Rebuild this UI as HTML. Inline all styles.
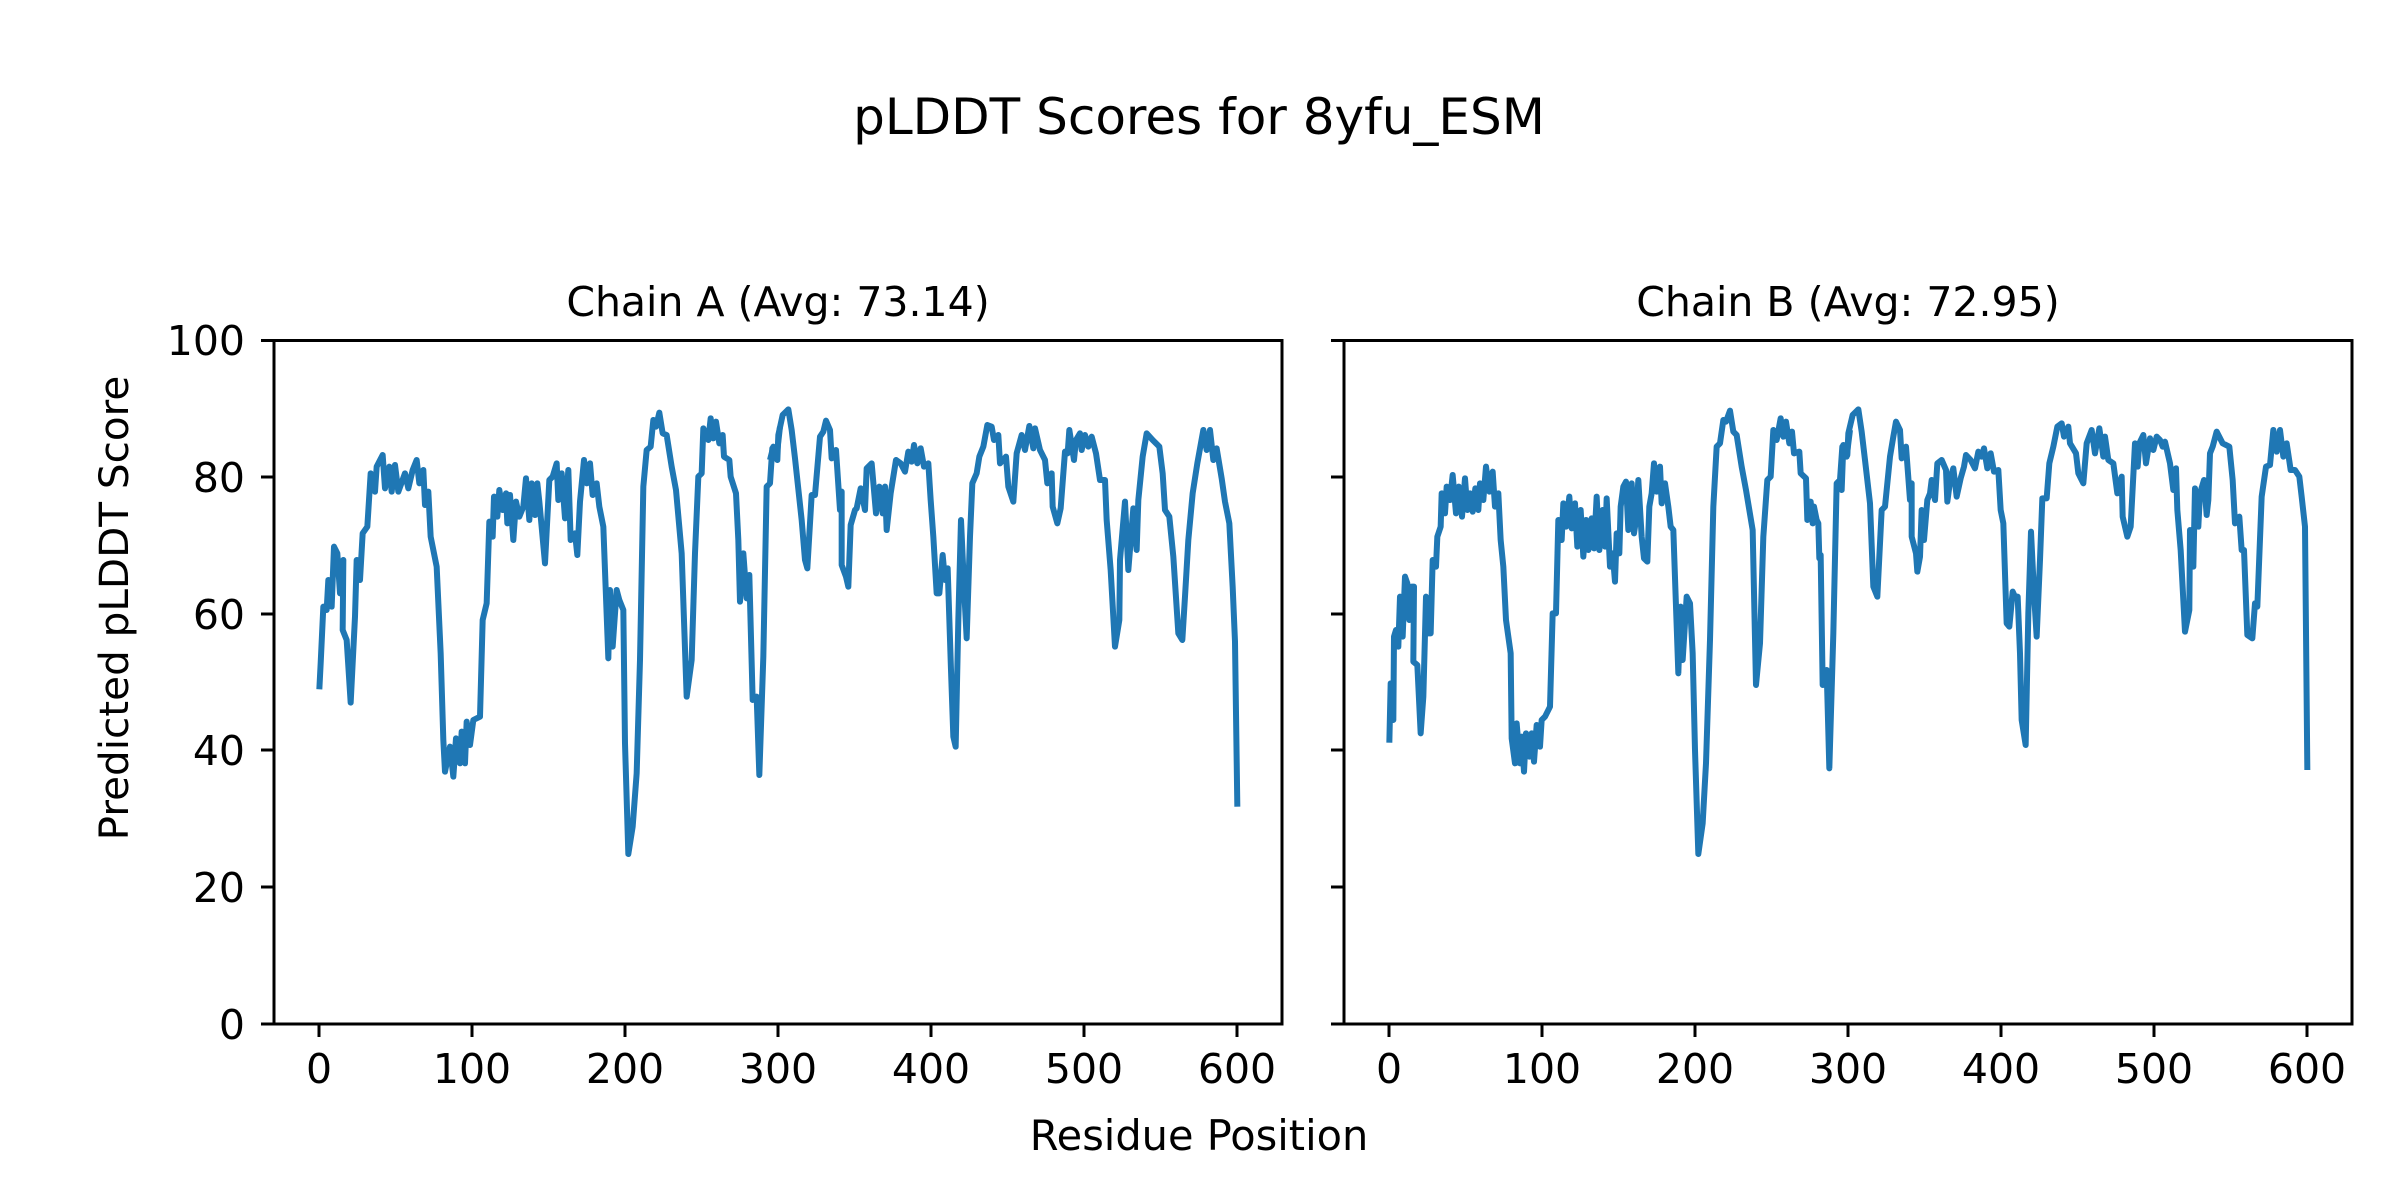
<!DOCTYPE html>
<html><head><meta charset="utf-8"><style>
html,body{margin:0;padding:0;background:#fff;}
svg{display:block;}
text{font-family:"DejaVu Sans","Liberation Sans",sans-serif;fill:#000;}
</style></head><body>
<svg width="2400" height="1200" viewBox="0 0 2400 1200" xmlns="http://www.w3.org/2000/svg">
<rect width="2400" height="1200" fill="#fff"/>
<text x="1199" y="134" font-size="50" text-anchor="middle">pLDDT Scores for 8yfu_ESM</text>
<text x="778" y="316" font-size="41" text-anchor="middle">Chain A (Avg: 73.14)</text>
<text x="1848" y="316" font-size="41" text-anchor="middle">Chain B (Avg: 72.95)</text>
<text x="1199" y="1150" font-size="41.5" text-anchor="middle">Residue Position</text>
<text transform="translate(128,608) rotate(-90)" font-size="40.5" text-anchor="middle">Predicted pLDDT Score</text>

<g fill="none" stroke="#1f77b4" stroke-width="18" stroke-linejoin="round">
<polyline transform="translate(260,320) scale(0.33333)" points="178,1108 182,1030 190,860 200,870 205,780 215,860 222,680 232,700 240,820 250,720 248,930 260,960 272,1148 285,890 290,720 300,780 308,640 322,620 332,460 345,515 350,440 368,405 375,505 388,440 395,515 405,435 415,515 435,460 445,505 458,450 470,420 478,490 490,450 495,555 505,515 512,650 530,740 542,1000 550,1260 555,1355 570,1280 580,1370 588,1255 600,1330 605,1235 615,1330 620,1205 630,1275 640,1200 660,1190 668,900 680,850 688,605 698,650 702,530 712,590 718,510 728,570 738,520 742,610 750,525 760,660 768,545 778,590 790,560 798,475 808,600 815,490 825,585 832,490 838,545 855,730 868,480 878,470 890,430 895,540 905,460 915,595 925,450 932,660 945,640 952,705 960,545 972,420 980,490 990,430 998,525 1010,490 1018,560 1030,620 1045,1015 1050,810 1058,980 1070,810 1078,840 1090,870 1095,1270 1105,1602 1118,1520 1130,1360 1140,1020 1150,500 1160,390 1172,380 1180,300 1188,320 1198,278 1208,340 1220,345 1235,440 1248,510 1265,700 1280,1130 1295,1020 1305,700 1315,470 1325,460 1330,325 1345,360 1352,295 1360,355 1368,305 1378,370 1388,345 1392,410 1408,420 1412,470 1428,520 1435,660 1440,845 1450,700 1460,835 1468,765 1478,1140 1490,1130 1498,1365 1510,1010 1520,500 1530,490 1537,385 1550,410 1560,320"/>
<polyline transform="translate(770,320) scale(0.33333)" points="0,420 10,380 22,420 25,345 38,285 55,268 65,330 75,415 95,600 105,720 112,745 125,525 135,525 150,350 160,335 168,302 180,330 185,415 198,390 210,570 215,515 215,735 228,770 235,800 242,615 255,570 260,565 272,505 285,570 290,445 305,430 318,580 328,500 338,580 345,500 350,630 362,520 378,420 392,430 405,455 415,395 425,425 432,375 442,430 452,385 462,440 475,430 482,540 490,650 500,820 508,820 518,705 525,780 533,745 543,1050 550,1250 557,1280 565,900 573,600 582,800 590,955 600,650 607,490 620,460 628,410 640,380 652,315 665,320 672,360 685,345 690,430 708,410 715,500 730,545 740,400 755,345 765,390 778,318 790,385 795,325 810,390 825,420 832,490 845,460 848,560 862,610 872,565 885,395 893,400 898,330 912,420 918,360 930,340 935,390 945,345 955,380 965,350 978,400 990,480 1005,480 1010,600 1022,750 1035,980 1048,900 1050,720 1065,545 1075,750 1090,565 1100,690 1105,540 1118,410 1130,340 1148,360 1168,380 1178,460 1185,570 1198,590 1210,710 1225,940 1237,960 1245,830 1255,660 1268,520 1282,430 1300,330 1310,390 1320,330 1330,420 1340,385 1355,475 1365,545 1378,610 1388,800 1395,965 1402,1460"/>
<polyline transform="translate(1330,320) scale(0.33333)" points="178,1268 182,1090 190,1200 192,950 198,930 205,980 210,830 218,950 225,770 232,790 238,900 245,800 252,800 250,1025 262,1035 272,1240 280,1130 288,830 295,940 302,940 308,720 318,740 322,650 332,620 335,520 345,580 350,500 360,540 368,465 378,580 386,500 396,590 405,475 412,570 420,520 428,575 436,505 445,570 450,490 460,540 468,440 478,515 488,455 495,560 505,520 512,660 520,740 528,900 542,1000 545,1255 555,1330 560,1210 570,1330 575,1250 582,1355 588,1240 598,1310 605,1240 612,1325 620,1215 630,1280 635,1200 645,1190 660,1160 668,880 678,880 685,600 695,660 700,550 708,620 718,530 725,625 735,550 742,680 752,570 760,710 768,600 775,690 785,595 792,685 800,530 808,690 818,570 825,680 830,535 840,740 848,700 855,785 860,640 868,700 872,560 880,500 888,485 895,630 905,490 912,640 918,600 925,480 935,650 942,715 952,725 958,560 965,520 972,430 980,515 990,440 995,550 1005,490 1015,560 1022,620 1030,630 1045,1060 1052,860 1058,1020 1070,830 1080,850 1088,1000 1095,1290 1105,1602 1118,1510 1128,1330 1140,960 1150,560 1160,380 1170,370 1180,300 1188,305 1200,272 1210,335 1220,345 1235,440 1248,510 1268,630 1278,1095 1290,970 1300,650 1312,480 1322,470 1330,330 1340,360 1352,295 1360,350 1368,305 1378,370 1386,335 1392,400 1408,395 1412,460 1428,475 1432,600 1442,545 1448,610 1452,560 1460,600 1465,610 1468,715 1472,705 1478,1095 1490,1050 1498,1345 1510,940 1520,490 1530,480 1537,380 1550,410 1560,330"/>
<polyline transform="translate(1840,320) scale(0.33333)" points="0,500 5,510 10,375 22,405 25,340 38,285 55,268 65,335 75,420 90,550 100,800 112,830 125,570 135,560 150,410 160,350 168,305 180,330 185,415 198,380 210,540 215,490 215,650 228,700 232,755 240,710 245,570 252,660 262,540 270,520 275,480 285,540 292,430 305,420 318,450 322,545 332,470 340,445 350,530 362,475 372,440 378,405 392,420 405,445 415,395 425,410 432,385 442,445 452,400 462,455 475,450 482,570 490,610 500,910 508,920 518,815 525,830 533,830 540,1000 545,1200 557,1275 565,880 573,635 582,820 590,950 600,720 607,535 620,535 628,430 640,380 652,320 665,310 672,350 685,320 690,370 708,400 715,460 730,490 740,370 755,330 765,400 778,325 790,410 795,350 805,420 820,430 832,520 845,470 848,590 862,650 872,620 885,370 893,440 898,370 910,345 918,430 930,355 940,390 950,350 960,360 968,380 975,365 990,430 1000,510 1008,445 1012,570 1022,690 1035,935 1048,870 1050,630 1060,740 1065,505 1075,620 1080,520 1092,480 1100,585 1105,540 1110,400 1118,380 1130,335 1148,370 1168,380 1178,480 1185,610 1198,590 1205,690 1212,690 1222,945 1237,955 1245,850 1252,860 1265,530 1278,440 1290,435 1300,330 1310,395 1320,330 1330,410 1340,370 1352,450 1365,450 1378,470 1385,530 1395,620 1402,1350"/>
</g>

<g fill="none" stroke="#000" stroke-width="3">
<rect x="274" y="340.5" width="1008" height="683.5"/>
<rect x="1344" y="340.5" width="1008" height="683.5"/>
<path d="M261,1024H274M261,887H274M261,750H274M261,614H274M261,477H274M261,340.5H274"/>
<path d="M1331,1024H1344M1331,887H1344M1331,750H1344M1331,614H1344M1331,477H1344M1331,340.5H1344"/>
<path d="M319,1024V1037M472,1024V1037M625,1024V1037M778,1024V1037M931,1024V1037M1084,1024V1037M1237,1024V1037"/>
<path d="M1389,1024V1037M1542,1024V1037M1695,1024V1037M1848,1024V1037M2001,1024V1037M2154,1024V1037M2307,1024V1037"/>
</g>

<g font-size="41" text-anchor="end">
<text x="245" y="1039">0</text>
<text x="245" y="902">20</text>
<text x="245" y="765">40</text>
<text x="245" y="629">60</text>
<text x="245" y="492">80</text>
<text x="245" y="355">100</text>
</g>
<g font-size="41" text-anchor="middle">
<text x="319" y="1083">0</text><text x="472" y="1083">100</text><text x="625" y="1083">200</text><text x="778" y="1083">300</text><text x="931" y="1083">400</text><text x="1084" y="1083">500</text><text x="1237" y="1083">600</text>
<text x="1389" y="1083">0</text><text x="1542" y="1083">100</text><text x="1695" y="1083">200</text><text x="1848" y="1083">300</text><text x="2001" y="1083">400</text><text x="2154" y="1083">500</text><text x="2307" y="1083">600</text>
</g>
</svg>
</body></html>
